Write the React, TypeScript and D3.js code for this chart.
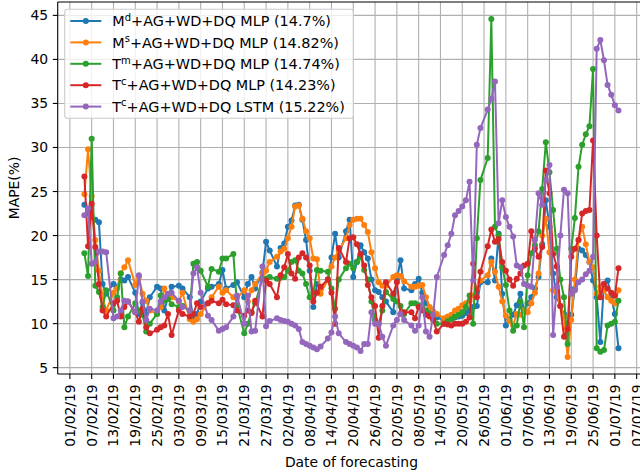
import React from "react";
import * as d3 from "d3";

// x values (2019, MM-DD)
const dates = [
  "02-05","02-06","02-07","02-08","02-09","02-10","02-11",
  "02-13","02-14","02-15","02-16","02-17",
  "02-19","02-20","02-21","02-22","02-23",
  "02-25","02-26","02-27","02-28","03-01",
  "03-03","03-04",
  "03-06","03-07","03-08","03-09",
  "03-11","03-12",
  "03-14","03-15","03-16",
  "03-18","03-19",
  "03-21","03-22","03-23","03-24",
  "03-26","03-27","03-28",
  "03-30","03-31","04-01","04-02","04-03","04-04","04-05","04-06","04-07","04-08","04-09","04-10","04-11",
  "04-13","04-14","04-15","04-16",
  "04-18","04-19","04-20","04-21","04-22","04-23","04-24","04-25","04-26","04-27","04-28","04-29",
  "05-01","05-02","05-03","05-04",
  "05-06","05-07","05-08","05-09","05-10","05-11","05-12","05-13",
  "05-15","05-16","05-17","05-18","05-19","05-20","05-21","05-22","05-23","05-24","05-25",
  "05-27","05-28","05-29","05-30","05-31",
  "06-01","06-02","06-03","06-04","06-05","06-06","06-07","06-08","06-09","06-10",
  "06-11","06-12","06-13","06-14","06-15","06-16","06-17","06-18","06-19","06-20",
  "06-21","06-22","06-23","06-24","06-25","06-26","06-27","06-28","06-29","06-30",
  "07-01","07-02",
];

const mdMLP = [
  23.5, 22.5, 22.1, 21.8, 21.5, 14.5, 13.4,
  14.5, 14.2, 15.0, 14.9, 15.3,
  13.5, 11.1, 12.4, 11.2, 13.0,
  14.2, 14.0, 11.5, 13.0, 14.2,
  14.3, 14.0,
  13.0, 10.5, 11.1, 12.5,
  14.0, 14.2,
  14.5, 16.1, 14.0,
  14.4, 14.7,
  13.0, 14.5, 15.3, 14.0,
  15.8, 19.3, 18.3,
  16.5, 18.6, 19.1, 21.0, 21.7, 23.4, 23.5, 21.8, 19.5, 16.0, 11.9, 14.5, 13.9,
  15.0, 17.5, 20.2, 17.5,
  20.5, 21.8, 15.3, 17.0, 18.9, 18.1, 17.4, 15.0, 13.8, 13.6, 13.0, 12.5,
  11.3, 15.0, 17.2, 14.0,
  13.8, 14.5, 15.1, 13.5, 12.3, 11.8, 11.2, 10.7,
  10.4, 10.5, 10.5, 10.7, 10.8, 10.9, 11.2, 11.5, 11.9, 12.0, 14.7,
  14.7, 17.4, 14.9, 20.2, 13.4,
  9.8, 10.5, 11.0, 12.1, 13.4, 11.5, 12.3, 13.0, 14.0, 15.3,
  19.0, 24.0, 21.0, 15.7, 13.0, 12.0, 11.1, 8.9, 11.0, 14.0,
  18.5, 18.3, 17.8, 17.0, 14.9, 13.0, 7.9, 14.5, 14.9, 13.0,
  11.1, 7.2,
];

const msMLP = [
  24.7, 29.8, 24.5, 19.5, 16.0, 13.0, 11.5,
  13.5, 14.0, 15.7, 16.4, 17.2,
  14.4, 15.3, 13.4, 12.6, 11.5,
  11.1, 11.9, 14.0, 12.8, 13.0,
  12.5, 13.5,
  10.5, 10.2, 10.5, 11.1,
  12.3, 13.0,
  14.2, 13.5, 13.8,
  13.0, 12.9,
  13.8, 12.5, 13.8, 14.5,
  15.7, 16.0, 17.0,
  17.6, 18.2, 18.5, 19.7, 21.0, 23.3, 23.4, 21.9, 20.5, 19.7, 17.4, 17.3, 13.4,
  15.0, 16.5, 17.5, 18.3,
  19.7, 21.2, 21.8, 21.9, 21.9, 21.2, 20.4, 18.1, 16.3, 14.7, 14.3, 14.3,
  15.3, 15.5, 15.4, 14.8,
  14.2, 14.2, 14.3, 14.4, 13.0, 11.9, 11.4, 11.1,
  10.6, 10.8, 11.0, 11.5, 11.7, 12.1, 12.3, 12.6, 13.2, 14.0, 14.9,
  15.5, 17.0, 15.9, 14.2, 12.5,
  10.9, 10.3, 9.8, 11.1, 11.0, 11.5, 11.3, 12.3, 13.5, 15.7,
  20.0, 21.9, 18.1, 13.8, 13.5, 12.0, 10.8, 6.2, 10.4, 15.0,
  19.5, 21.0, 19.0, 17.0, 16.4, 13.4, 14.2, 13.8, 13.0, 12.6,
  12.3, 13.8,
];

const tmMLP = [
  18.0, 15.4, 31.0, 14.3, 13.6, 11.9, 13.8,
  11.5, 13.0, 15.7, 9.6, 10.8,
  12.3, 11.5, 11.0, 9.1, 10.0,
  11.1, 13.2, 12.6, 12.8, 12.2,
  11.9, 12.0,
  11.5, 16.8, 17.0, 16.0,
  14.2, 16.2,
  15.9, 17.4, 17.4,
  17.9, 12.0,
  8.9, 10.0, 11.3, 12.3,
  15.1, 15.1, 15.3,
  15.1, 15.2, 15.3, 16.0, 17.0, 17.2, 16.0, 15.7, 14.5, 13.0, 13.5, 16.1, 16.0,
  15.9, 14.0, 11.7, 15.0,
  16.3, 16.8, 16.3, 17.0, 17.6, 16.1, 15.0, 12.5, 10.4, 10.0, 11.5, 13.6,
  12.8, 12.5, 12.0, 11.1,
  12.3, 12.3, 12.1, 11.9, 11.5, 11.1, 10.5, 10.0,
  10.0, 10.3, 10.5, 10.8, 11.0, 11.3, 11.9, 13.2, 10.0, 19.7, 26.3,
  28.8, 44.6, 21.0, 20.0, 16.4,
  14.4, 11.5, 9.2, 9.8, 12.5, 9.6, 15.5, 18.0, 18.9, 20.5,
  25.3, 30.6, 27.2, 22.9, 18.5, 15.0, 13.0, 7.7, 18.5, 22.0,
  27.8, 30.3, 31.5, 32.4, 38.9, 7.2, 6.8, 7.0, 9.8, 10.0,
  10.2, 12.6,
];

const tcMLP = [
  26.7, 18.8, 23.6, 18.7, 14.5, 11.5, 10.8,
  12.3, 12.6, 10.8, 11.9, 12.5,
  11.3, 10.2, 11.7, 9.6, 8.9,
  9.3, 9.6, 9.8, 11.1, 8.7,
  11.5, 11.1,
  10.8, 11.1, 12.3, 11.9,
  12.3, 12.6,
  12.3, 12.7, 12.2,
  12.1, 11.5,
  10.9, 11.5, 11.2, 12.6,
  10.8, 14.9, 14.5,
  13.0, 15.5, 16.4, 17.9, 15.7, 15.1, 17.5, 18.0, 17.5, 16.6, 12.5, 13.5, 14.2,
  15.0, 13.5, 10.0, 18.6,
  17.0, 19.7, 19.8, 19.0, 17.9, 16.6, 14.4, 13.0, 12.0, 8.4, 12.0, 14.7,
  13.4, 14.7, 11.1, 11.3,
  11.3, 10.6, 11.9, 11.5, 11.0, 10.8, 10.4, 9.1,
  10.0, 9.9, 9.8, 10.0, 10.0, 10.0, 10.2, 10.7, 16.8, 13.0, 15.9,
  18.8, 20.7, 19.3, 19.6, 17.0,
  16.0, 15.0, 14.3, 15.1, 15.7, 16.6, 16.8, 20.5, 18.5, 17.6,
  18.7, 27.4, 24.8, 17.9, 16.5, 12.0, 8.5, 9.4, 17.6, 18.5,
  19.5, 22.5, 22.8, 22.9, 30.8, 20.0, 13.0, 14.5, 14.0, 13.5,
  13.2, 16.3,
];

const tcLSTM = [
  22.3, 23.1, 16.8, 17.0, 18.2, 18.2, 18.1,
  10.6, 10.8, 11.5, 12.6, 12.5,
  11.3, 15.5, 12.5, 10.4, 11.7,
  11.5, 12.5, 13.0, 13.4, 13.5,
  12.6, 11.9,
  11.5, 15.7, 16.4, 13.5,
  10.9, 10.4,
  9.2, 9.4, 9.6,
  10.8, 13.2,
  10.0, 13.2, 9.1, 9.2,
  16.5, 9.7, 10.3,
  10.6, 10.4, 10.3, 10.2, 10.0, 9.8, 9.4, 7.9, 7.7, 7.5, 7.3, 7.1, 7.4,
  8.3, 9.0, 10.8, 8.9,
  7.9, 7.7, 7.5, 7.3, 6.9, 7.7, 7.7, 11.3, 10.0, 10.0, 8.5, 7.5,
  9.8, 10.4, 11.1, 10.4,
  9.8, 9.2, 9.8, 13.0, 9.1, 8.5, 11.0, 15.3,
  17.8, 18.9, 20.2, 22.3, 22.8, 23.3, 24.0, 26.1, 14.9, 30.3, 32.2,
  34.3, 35.5, 37.5, 21.4, 24.0,
  22.1, 21.0, 19.9, 16.6, 16.4, 14.5, 14.3, 14.2, 19.5, 24.8,
  23.5, 26.3, 28.0, 8.7, 14.2, 20.0, 25.2, 24.8, 13.4, 13.8,
  14.7, 15.0, 15.6, 16.0, 17.6, 41.2, 42.2, 39.9, 37.1, 36.0,
  34.8, 34.2,
];

const seriesValues = [mdMLP, msMLP, tmMLP, tcMLP, tcLSTM];
const seriesColors = ["#1f77b4", "#ff7f0e", "#2ca02c", "#d62728", "#9467bd"];
const legendBase = ["M", "M", "T", "T", "T"];
const legendSup = ["d", "s", "m", "c", "c"];
const legendRest = [
  "+AG+WD+DQ MLP (14.7%)",
  "+AG+WD+DQ MLP (14.82%)",
  "+AG+WD+DQ MLP (14.74%)",
  "+AG+WD+DQ MLP (14.23%)",
  "+AG+WD+DQ LSTM (15.22%)",
];

const xTickLabels = [
  "01/02/19","07/02/19","13/02/19","19/02/19","25/02/19","03/03/19","09/03/19",
  "15/03/19","21/03/19","27/03/19","02/04/19","08/04/19","14/04/19","20/04/19",
  "26/04/19","02/05/19","08/05/19","14/05/19","20/05/19","26/05/19","01/06/19",
  "07/06/19","13/06/19","19/06/19","25/06/19","01/07/19","07/07/19",
];
const yTicks = [5, 10, 15, 20, 25, 30, 35, 40, 45];

const W = 640;
const H = 476;
const PL = 57.7;
const PR = 645.2;
const PT = 2;
const PB = 374;
const FONT = "'DejaVu Sans', sans-serif";
const FS = 13.9;
const LFS = 14.4;

const parseMD = (s: string) => new Date(Date.UTC(2019, +s.slice(0, 2) - 1, +s.slice(3, 5)));
const parseDMY = (s: string) => {
  const [d, m, y] = s.split("/");
  return new Date(Date.UTC(2000 + +y, +m - 1, +d));
};

export default function App() {
  const xs = dates.map(parseMD);
  const [x0, x1] = d3.extent(xs) as [Date, Date];
  const padX = (x1.getTime() - x0.getTime()) * 0.05;
  const x = d3
    .scaleUtc()
    .domain([new Date(x0.getTime() - padX), new Date(x1.getTime() + padX)])
    .range([PL, PR]);
  const all = seriesValues.flat();
  const [y0, y1] = d3.extent(all) as [number, number];
  const padY = (y1 - y0) * 0.05;
  const y = d3.scaleLinear().domain([y0 - padY, y1 + padY]).range([PB, PT]);

  const line = d3
    .line<number>()
    .x((_, i) => x(xs[i]))
    .y((v) => y(v));

  const tickDates = xTickLabels.map(parseDMY);

  const legX = 64.7;
  const legY = 9.3;
  const legW = 288.6;
  const legH = 109;
  const rowY = (i: number) => 21 + i * 21.4;

  return (
    <svg
      width={W}
      height={H}
      style={{ position: "absolute", left: 0, top: 0, background: "#fff" }}
      fontFamily={FONT}
    >
      <rect x={0} y={0} width={W} height={H} fill="#fff" />
      <defs>
        <clipPath id="plot">
          <rect x={PL} y={PT} width={PR - PL} height={PB - PT} />
        </clipPath>
      </defs>
      {/* grid */}
      <g stroke="#b0b0b0" strokeWidth={1.1}>
        {tickDates.map((d, i) => (
          <line key={"gx" + i} x1={x(d)} x2={x(d)} y1={PT} y2={PB} />
        ))}
        {yTicks.map((t) => (
          <line key={"gy" + t} x1={PL} x2={PR} y1={y(t)} y2={y(t)} />
        ))}
      </g>
      {/* series */}
      <g clipPath="url(#plot)">
        {seriesValues.map((vals, si) => (
          <g key={"s" + si}>
            <path d={line(vals) || ""} fill="none" stroke={seriesColors[si]} strokeWidth={2} strokeLinejoin="round" />
            {vals.map((v, i) => (
              <circle key={i} cx={x(xs[i])} cy={y(v)} r={3} fill={seriesColors[si]} />
            ))}
          </g>
        ))}
      </g>
      {/* spines */}
      <g stroke="#000" strokeWidth={1.1} fill="none">
        <line x1={PL} x2={PL} y1={PT} y2={PB} />
        <line x1={PL} x2={PR} y1={PB} y2={PB} />
        <line x1={PL} x2={PR} y1={PT} y2={PT} />
        <line x1={PR} x2={PR} y1={PT} y2={PB} />
      </g>
      {/* x ticks */}
      {tickDates.map((d, i) => (
        <g key={"xt" + i} transform={`translate(${x(d)},0)`}>
          <line y1={PB} y2={PB + 4.9} stroke="#000" strokeWidth={1.1} />
          <text
            transform={`translate(0,${PB + 10.3}) rotate(-90)`}
            textAnchor="end"
            dy="0.36em"
            fontSize={FS}
            fill="#000"
          >
            {xTickLabels[i]}
          </text>
        </g>
      ))}
      {/* y ticks */}
      {yTicks.map((t) => (
        <g key={"yt" + t}>
          <line x1={PL - 4.9} x2={PL} y1={y(t)} y2={y(t)} stroke="#000" strokeWidth={1.1} />
          <text x={PL - 9.5} y={y(t)} dy="0.36em" textAnchor="end" fontSize={FS} fill="#000">
            {t}
          </text>
        </g>
      ))}
      {/* axis labels */}
      <text x={(PL + PR) / 2} y={467} textAnchor="middle" fontSize={FS} fill="#000">
        Date of forecasting
      </text>
      <text
        transform={`translate(19,${(PT + PB) / 2}) rotate(-90)`}
        textAnchor="middle"
        fontSize={FS}
        fill="#000"
      >
        MAPE(%)
      </text>
      {/* legend */}
      <rect
        x={legX}
        y={legY}
        width={legW}
        height={legH}
        rx={2.8}
        fill="#fff"
        fillOpacity={0.8}
        stroke="#cccccc"
        strokeWidth={1.1}
      />
      {seriesColors.map((c, i) => (
        <g key={"lg" + i}>
          <line x1={70.3} x2={101.3} y1={rowY(i)} y2={rowY(i)} stroke={c} strokeWidth={2} />
          <circle cx={85.8} cy={rowY(i)} r={3} fill={c} />
          <text x={112.3} y={rowY(i)} dy="0.36em" fontSize={LFS} fill="#000">
            {legendBase[i]}
            <tspan fontSize={10} dy="-5.4">{legendSup[i]}</tspan>
            <tspan dy="5.4">{legendRest[i]}</tspan>
          </text>
        </g>
      ))}
    </svg>
  );
}
